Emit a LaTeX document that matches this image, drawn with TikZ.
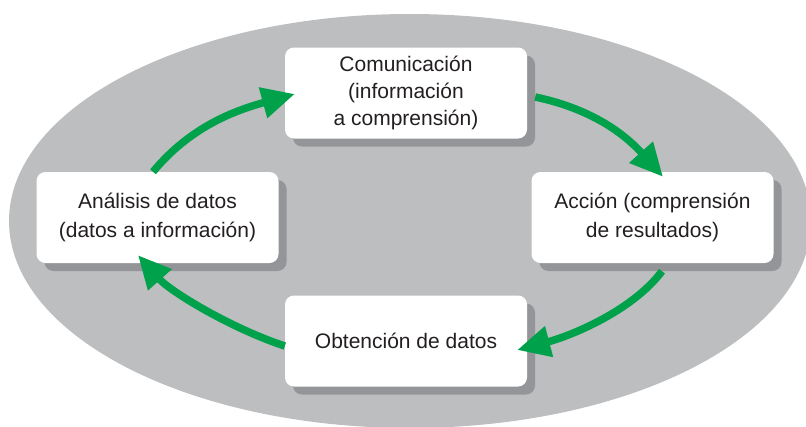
\documentclass[tikz,border=0pt]{standalone}
\usepackage{fontspec}
\setmainfont{Liberation Sans}
\usetikzlibrary{arrows.meta,shadows,calc}
\definecolor{ellc}{RGB}{188,190,192}
\definecolor{shc}{RGB}{147,149,152}
\definecolor{grn}{RGB}{0,161,75}
\definecolor{txtc}{RGB}{35,31,32}
\begin{document}
\begin{tikzpicture}[x=1pt,y=-1pt,
  box/.style={draw=none, fill=white, rounded corners=9pt, minimum width=242pt,
    minimum height=91pt, align=center, text=txtc, inner sep=0pt,
    drop shadow={shadow xshift=8pt, shadow yshift=-8pt, fill=shc, opacity=1}},
  arr/.style={draw=grn, line width=7.5pt, -{Triangle[length=33pt,width=30pt,fill=grn]}}]
\useasboundingbox (0,0) rectangle (806,426);
\clip (0,0) rectangle (806,426);
\fill[ellc] (410,221) ellipse [x radius=401, y radius=207];
\node[box, font=\fontsize{21}{27}\selectfont] (com) at (406,93) {Comunicación\\(información\\a comprensión)};
\node[box, font=\fontsize{21}{29}\selectfont] (ana) at (157.5,217.5) {Análisis de datos\\(datos a información)};
\node[box, font=\fontsize{21}{29}\selectfont] (acc) at (652.5,217.5) {Acción (comprensión\\de resultados)};
\node[box, font=\fontsize{21}{27}\selectfont] (obt) at (406,341) {Obtención de datos};
\draw[arr] ($(ana.north)+(-4.5,0)$) .. controls +(38,-46) and +(-58,16) .. ($(com.west)+(10,1)$);
\draw[arr] ($(com.east)+(8,4)$) .. controls +(62,13) and +(-34,-38) .. ($(acc.north)+(10.5,5)$);
\draw[arr] ($(acc.south)+(9.5,8)$) .. controls +(-30,40) and +(53,-14) .. ($(obt.east)+(-10,9)$);
\draw[arr] ($(obt.west)+(0,5)$) .. controls +(-52,-17) and +(33,37) .. ($(ana.south)+(-19.5,-8)$);
\end{tikzpicture}
\end{document}
